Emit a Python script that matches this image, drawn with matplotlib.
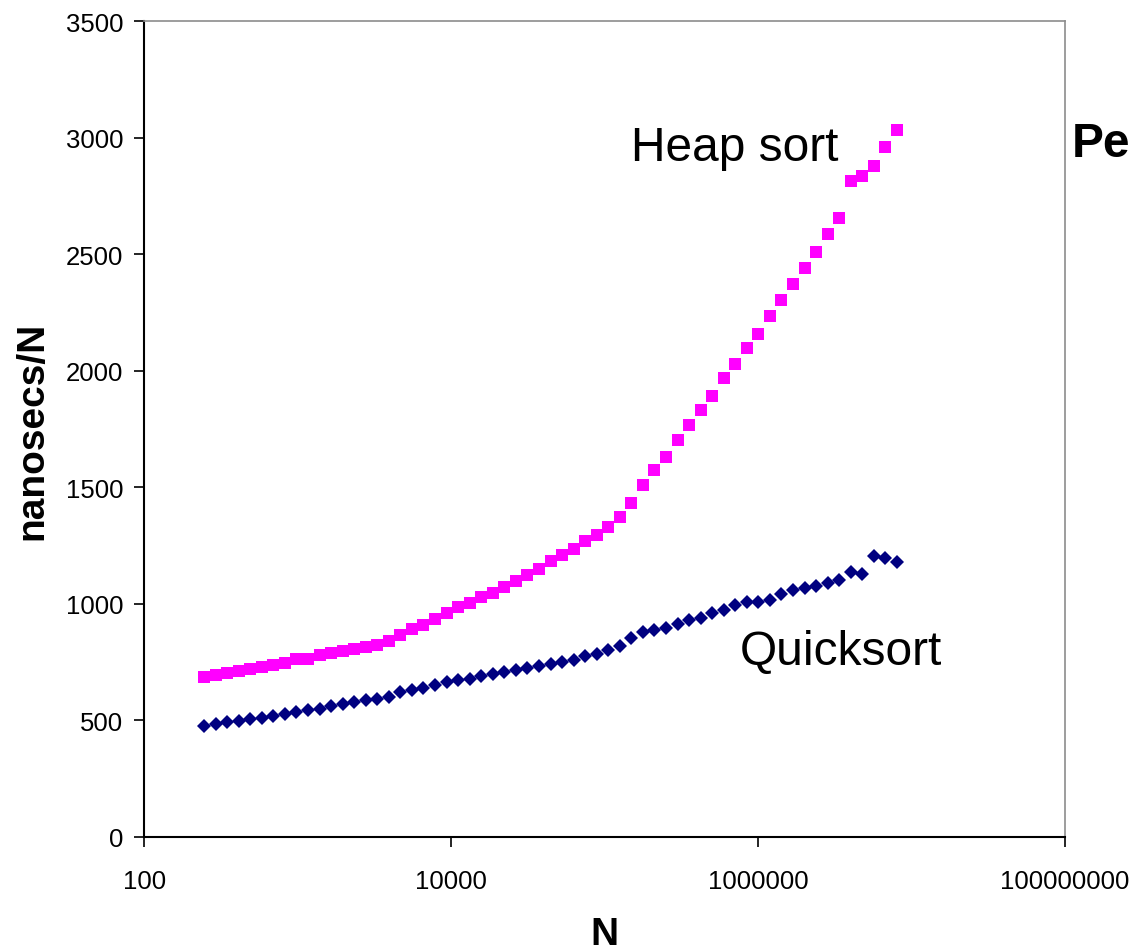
import matplotlib.pyplot as plt
import matplotlib.ticker as mticker
import numpy as np

plt.rcParams['font.family'] = ['Liberation Sans', 'DejaVu Sans']

# problem sizes
sizes = [245, 291, 347, 412, 490, 583, 693, 824, 980, 1165,
         1386, 1648, 1960, 2331, 2772, 3296, 3920, 4662, 5544, 6593,
         7840, 9324, 11088, 13186, 15680, 18647, 22175, 26371, 31360, 37294,
         44351, 52742, 62720, 74588, 88702, 105484, 125440, 149175, 177403, 210968,
         250880, 298350, 354806, 421936, 501760, 596700, 709612, 843872, 1003520, 1193400,
         1419224, 1687744, 2007040, 2386800, 2838448, 3375488, 4014080, 4773600, 5676896, 6750976,
         8028160]

heap_ns = [685, 695, 703, 711, 720, 728, 737, 745, 763, 763,
           780, 789, 798, 806, 815, 822, 841, 867, 892, 909,
           935, 961, 985, 1003, 1030, 1047, 1073, 1098, 1124, 1150,
           1184, 1210, 1237, 1271, 1296, 1331, 1373, 1434, 1511, 1572,
           1632, 1702, 1769, 1830, 1891, 1968, 2029, 2098, 2158, 2234,
           2304, 2372, 2441, 2511, 2588, 2657, 2813, 2837, 2880, 2959,
           3034]

quick_ns = [476, 484, 492, 499, 508, 510, 518, 527, 535, 543,
            551, 561, 569, 578, 586, 593, 602, 621, 629, 638,
            654, 663, 673, 678, 689, 699, 709, 718, 724, 732,
            742, 749, 761, 775, 785, 802, 818, 852, 881, 888,
            897, 914, 932, 940, 961, 974, 995, 1010, 1010, 1017,
            1042, 1061, 1070, 1078, 1090, 1104, 1138, 1128, 1207, 1198,
            1178]

fig = plt.figure(figsize=(11.33, 9.53), dpi=100)
ax = fig.add_axes([0.1274, 0.1207, 0.8126, 0.8562])

ax.plot(sizes, heap_ns, linestyle='None', marker='s', markersize=8.6,
        color='#FF00FF', markeredgewidth=0)
ax.plot(sizes, quick_ns, linestyle='None', marker='D', markersize=7.4,
        color='#000080', markeredgewidth=0)

ax.set_xscale('log')
ax.set_xlim(100, 1e8)
ax.set_ylim(0, 3500)
ax.xaxis.set_major_locator(mticker.FixedLocator([1e2, 1e4, 1e6, 1e8]))
ax.xaxis.set_minor_locator(mticker.NullLocator())
ax.xaxis.set_major_formatter(mticker.FuncFormatter(lambda v, p: '{:d}'.format(int(round(v)))))
ax.set_yticks(np.arange(0, 3501, 500))

ax.tick_params(axis='both', labelsize=18.5, length=7, width=1.2, color='black', direction='out')
ax.tick_params(axis='y', pad=8)
ax.tick_params(axis='x', pad=16)

for side in ['left', 'bottom']:
    ax.spines[side].set_color('black')
    ax.spines[side].set_linewidth(1.5)
for side in ['top', 'right']:
    ax.spines[side].set_color('#8c8c8c')
    ax.spines[side].set_linewidth(1.2)

ax.set_ylabel('nanosecs/N', fontsize=28, fontweight='bold', va='center')
ax.yaxis.set_label_coords(-0.122, 0.499)
ax.set_xlabel('N', fontsize=28, fontweight='bold', va='center')
ax.xaxis.set_label_coords(0.5, -0.119)

ax.text(0.5285, 0.830, 'Heap sort', transform=ax.transAxes, fontsize=34.5,
        ha='left', va='baseline')
ax.text(0.6464, 0.212, 'Quicksort', transform=ax.transAxes, fontsize=34.5,
        ha='left', va='baseline')

# title is cut off at the right edge in the original, only "Pe" shows
fig.text(1072 / 1133, 1 - 157 / 953, 'Pe', fontsize=34.5, fontweight='bold',
         ha='left', va='baseline')

fig.savefig('out.png', dpi=100)
